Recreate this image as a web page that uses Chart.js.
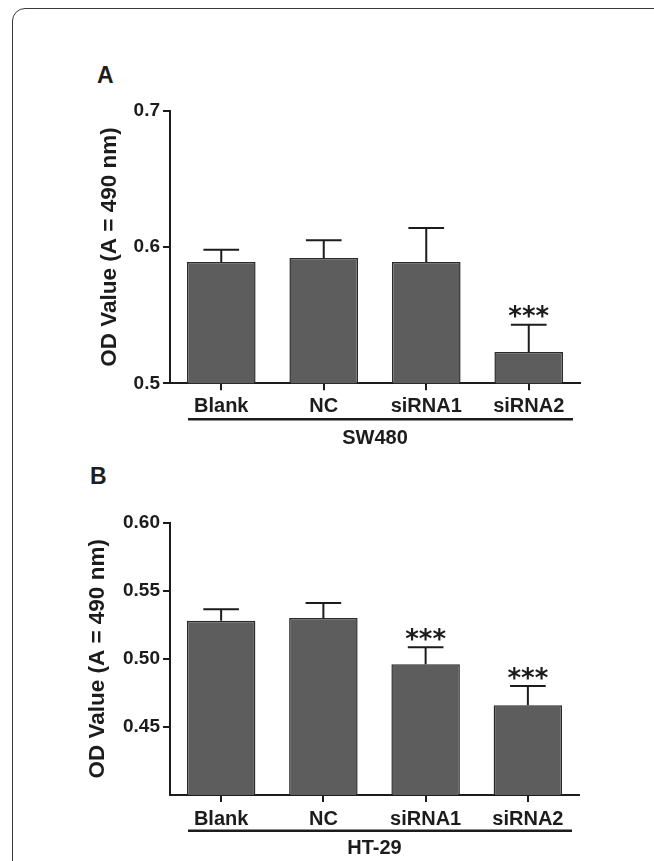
<!DOCTYPE html>
<html>
<head>
<meta charset="utf-8">
<script src="https://cdn.jsdelivr.net/npm/chart.js@4.4.1/dist/chart.umd.min.js"></script>
<style>
  html, body { margin: 0; padding: 0; background: #fff; overflow: hidden; }
  body { width: 654px; height: 861px; position: relative; }
  #frame { position: absolute; left: 12px; top: 8px; width: 720px; height: 900px;
           border: 1px solid #3a3a3a; border-radius: 13px; box-sizing: border-box; }
  canvas { position: absolute; left: 0; }
  #cA { top: 0; }
  #cB { top: 460px; }
  .panel { position: absolute; font: bold 23px "Liberation Sans", Arial, sans-serif; color: #1e1e1e; }
</style>
</head>
<body>
<div id="frame"></div>
<div class="panel" style="left:97px; top:62px;">A</div>
<div class="panel" style="left:90px; top:463px;">B</div>
<canvas id="cA" width="654" height="460"></canvas>
<canvas id="cB" width="654" height="401"></canvas>
<script>
// ---- data ----
const categories = ['Blank', 'NC', 'siRNA1', 'siRNA2'];
const sw480Means = [0.589, 0.592, 0.589, 0.523];
const sw480Errors = [0.009, 0.013, 0.025, 0.020];
const sw480Stars = ['', '', '', '***'];
const ht29Means = [0.528, 0.530, 0.496, 0.466];
const ht29Errors = [0.0085, 0.011, 0.0125, 0.014];
const ht29Stars = ['', '', '***', '***'];
const sw480Ticks = [0.5, 0.6, 0.7];
const ht29Ticks = [0.45, 0.50, 0.55, 0.60];
const yTitle = 'OD Value (A = 490 nm)';
const groupA = 'SW480';
const groupB = 'HT-29';

const FONT = '"Liberation Sans", Arial, Helvetica, sans-serif';
const INK = '#1c1c1c';

const errorBarPlugin = {
  id: 'errorBars',
  afterDatasetsDraw(chart) {
    const ctx = chart.ctx;
    const ys = chart.scales.y;
    chart.data.datasets.forEach((ds, di) => {
      const meta = chart.getDatasetMeta(di);
      meta.data.forEach((el, i) => {
        const top = ys.getPixelForValue(ds.data[i] + ds.errors[i]);
        const half = el.width * 0.26;
        ctx.save();
        ctx.strokeStyle = INK;
        ctx.lineWidth = 2;
        ctx.beginPath();
        ctx.moveTo(el.x, el.y);
        ctx.lineTo(el.x, top);
        ctx.moveTo(el.x - half, top);
        ctx.lineTo(el.x + half, top);
        ctx.stroke();
        const s = ds.stars[i];
        if (s) {
          ctx.fillStyle = INK;
          ctx.font = 'bold 26px "DejaVu Sans", sans-serif';
          ctx.textAlign = 'center';
          ctx.textBaseline = 'alphabetic';
          const m = ctx.measureText(s);
          const cy = top - 13;
          ctx.fillText(s, el.x, cy + (m.actualBoundingBoxAscent - m.actualBoundingBoxDescent) / 2);
        }
        ctx.restore();
      });
    });
  }
};

const underlinePlugin = {
  id: 'groupUnderline',
  afterDraw(chart, args, opts) {
    const ctx = chart.ctx;
    const a = chart.chartArea;
    ctx.save();
    ctx.strokeStyle = INK;
    ctx.lineWidth = 2.5;
    ctx.beginPath();
    ctx.moveTo(a.left + 18, a.bottom + opts.offset);
    ctx.lineTo(a.right - 7, a.bottom + opts.offset);
    ctx.stroke();
    ctx.restore();
  }
};

function makeChart(id, means, errors, stars, ticks, yMin, yMax, group, cfg) {
  return new Chart(document.getElementById(id), {
    type: 'bar',
    data: {
      labels: categories,
      datasets: [{
        data: means,
        errors: errors,
        stars: stars,
        backgroundColor: '#5d5d5d',
        borderColor: '#2a2a2a',
        borderWidth: 1.5,
        barPercentage: 0.67,
        categoryPercentage: 1
      }]
    },
    plugins: [errorBarPlugin, underlinePlugin],
    options: {
      responsive: false,
      animation: false,
      devicePixelRatio: 1,
      layout: { padding: { top: cfg.padTop, left: 0, right: cfg.padRight, bottom: cfg.padBottom } },
      plugins: {
        legend: { display: false },
        tooltip: { enabled: false },
        groupUnderline: { offset: cfg.underline }
      },
      scales: {
        x: {
          type: 'category',
          offset: true,
          afterFit(scale) { scale.height = cfg.xHeight; },
          grid: { display: true, offset: false, drawOnChartArea: false, drawTicks: true,
                  tickLength: 7, color: INK, lineWidth: 2 },
          border: { display: true, color: INK, width: 2 },
          ticks: { color: INK, padding: cfg.xPad, maxRotation: 0,
                   font: { family: FONT, size: 20, weight: 'bold', lineHeight: 1 } },
          title: { display: true, text: group, color: INK,
                   padding: { top: 0, bottom: cfg.groupPad },
                   font: { family: FONT, size: 20, weight: 'bold', lineHeight: 1 } }
        },
        y: {
          type: 'linear',
          min: yMin,
          max: yMax,
          afterFit(scale) { scale.width = 170; },
          afterBuildTicks(scale) { scale.ticks = ticks.map(v => ({ value: v })); },
          grid: { display: true, drawOnChartArea: false, drawTicks: true,
                  tickLength: 7, color: INK, lineWidth: 2 },
          border: { display: true, color: INK, width: 2 },
          ticks: { color: INK, padding: 3,
                   callback: (v) => v.toFixed(cfg.decimals),
                   font: { family: FONT, size: 19, weight: 'bold', lineHeight: 1 } },
          title: { display: true, text: yTitle, color: INK,
                   padding: { top: cfg.titlePad, bottom: 0 },
                   font: { family: FONT, size: 22.5, weight: 'bold', lineHeight: 1 } }
        }
      }
    }
  });
}

makeChart('cA', sw480Means, sw480Errors, sw480Stars, sw480Ticks, 0.5, 0.7, groupA, {
  padTop: 110.7, padRight: 74, padBottom: 6.7, xHeight: 70, xPad: 6,
  groupPad: 5, underline: 36, titlePad: 98.7, decimals: 1
});
makeChart('cB', ht29Means, ht29Errors, ht29Stars, ht29Ticks, 0.40, 0.60, groupB, {
  padTop: 62.7, padRight: 75, padBottom: 1, xHeight: 65, xPad: 7,
  groupPad: 2, underline: 35.7, titlePad: 87, decimals: 2
});
</script>
</body>
</html>
